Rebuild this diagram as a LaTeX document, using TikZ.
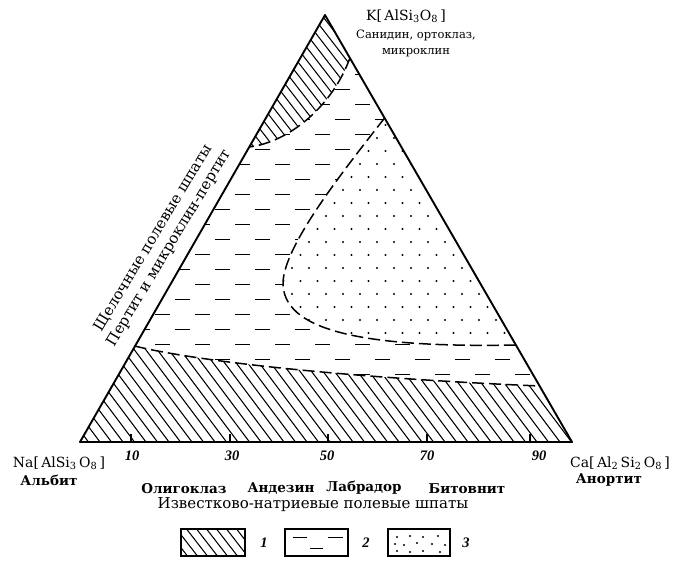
\documentclass[tikz,border=0pt]{standalone}
\usepackage{fontspec}
\setmainfont{DejaVu Serif}
\newfontfamily\numfont{Liberation Serif}
\begin{document}
\begin{tikzpicture}[x=1pt,y=-1pt]
\tikzset{
  tri/.style={line width=1.9pt, line join=round},
  bound/.style={line width=1.5pt, dash pattern=on 12pt off 5pt},
  hatch/.style={line width=1.05pt},
  dsh/.style={line width=1pt},
  lbl/.style={font=\fontsize{15}{16}\selectfont, inner sep=0pt},
  blbl/.style={font=\bfseries\fontsize{13.5}{15}\selectfont, inner sep=0pt},
  toplbl/.style={font=\fontsize{11.5}{13}\selectfont, inner sep=0pt},
  fml/.style={font=\fontsize{14}{15}\selectfont, inner sep=0pt},
  num/.style={font=\numfont\bfseries\itshape\fontsize{14.5}{15}\selectfont, inner sep=0pt},
  box/.style={line width=1.3pt},
  tick/.style={line width=1.1pt}
}
\useasboundingbox (0,0) rectangle (681,569);
% vertices and boundary points
\coordinate (A) at (325,15);
\coordinate (B) at (80,442);
\coordinate (C) at (572,442);
\coordinate (P1) at (249.3,147);
\coordinate (Q1) at (349.9,58);
\coordinate (L) at (134.5,346);
\coordinate (R) at (539.6,386);
\coordinate (S) at (384.6,118);
\coordinate (M) at (283,282);
\coordinate (T) at (515.9,345);
% region 2: dashes
\begin{scope}
  \clip (P1) -- (L) .. controls (200,362) and (350,378) .. (R) -- (Q1) .. controls (333,105) and (290,142) .. (P1) -- cycle;
  \foreach \r in {0,...,21}{
    \foreach \c in {0,...,12}{
      \draw[dsh] ({95+40*\c+20*mod(\r,2)},{60+15*\r}) -- ++(15,0);
    }
  }
\end{scope}
% region 3: dots
\fill[white] (S) .. controls (340,175) and (285,245) .. (M) .. controls (282,330) and (360,348) .. (T) -- cycle;
\begin{scope}
  \clip (S) .. controls (340,175) and (285,245) .. (M) .. controls (282,330) and (360,348) .. (T) -- cycle;
  \foreach \r in {0,...,18}{
    \foreach \c in {0,...,15}{
      \fill ({275+17*\c+8.5*mod(\r,2)},{112+13*\r}) circle[radius=1.2pt];
    }
  }
\end{scope}
% region 1: top hatching
\begin{scope}
  \clip (A) -- (Q1) .. controls (333,105) and (290,142) .. (P1) -- cycle;
  \foreach \i in {0,...,26}{
    \draw[hatch] ({120+10*\i},0) -- ++(120,155);
  }
\end{scope}
% bottom hatching
\begin{scope}
  \clip (L) .. controls (200,362) and (350,378) .. (R) -- (C) -- (B) -- cycle;
  \foreach \i in {0,...,50}{
    \draw[hatch] ({-30+11.5*\i},330) -- ++(90,120);
  }
\end{scope}
% boundaries
\draw[bound] (Q1) .. controls (333,105) and (290,142) .. (P1);
\draw[bound] (L) .. controls (200,362) and (350,378) .. (R);
\draw[bound] (S) .. controls (340,175) and (285,245) .. (M) .. controls (282,330) and (360,348) .. (T);
% triangle
\draw[tri] (A) -- (B) -- (C) -- cycle;
% ticks
\foreach \x in {131,230,328,427,530}{
  \draw[tick] (\x,442) -- (\x,434);
}
% vertex labels
\node[fml] (kf) at (406,16) {K[\,AlSi\textsubscript{3}O\textsubscript{8}\,]};
\node[toplbl] (san) at (416,35) {Санидин, ортоклаз,};
\node[toplbl] (mik) at (416,53) {микроклин};
\node[fml] (na) at (59,463) {Na[\,AlSi\textsubscript{3}\,O\textsubscript{8}\,]};
\node[blbl] (alb) at (49,480) {Альбит};
\node[fml] (ca) at (620,463) {Ca[\,Al\textsubscript{2}\,Si\textsubscript{2}\,O\textsubscript{8}\,]};
\node[blbl] (an) at (609,480) {Анортит};
% scale numbers
\node[num] (n10) at (132,456) {10};
\node[num] (n30) at (232,456) {30};
\node[num] (n50) at (327,456) {50};
\node[num] (n70) at (427,456) {70};
\node[num] (n90) at (539,456) {90};
% plagioclase names
\node[blbl] (olig) at (184,489) {Олигоклаз};
\node[blbl] (and) at (281,489) {Андезин};
\node[blbl] (lab) at (364,488) {Лабрадор};
\node[blbl] (bit) at (467,489) {Битовнит};
\node[lbl] (izv) at (313,505) {Известково-натриевые полевые шпаты};
% side labels
\node[lbl, rotate=59] (alk1) at (153,238) {Щелочные полевые шпаты};
\node[lbl, rotate=59] (alk2) at (169,248) {Пертит и микроклин-пертит};
% legend
\begin{scope}
  \clip (181,529) rectangle (245,556);
  \foreach \i in {0,...,9}{
    \draw[hatch] ({165+10*\i},527) -- ++(24,31);
  }
\end{scope}
\draw[box] (181,529) rectangle (245,556);
\node[num] (l1) at (264,543) {1};
\draw[box] (285,529) rectangle (348,556);
\draw[dsh] (293,538) -- (307,538);
\draw[dsh] (328,538) -- (343,538);
\draw[dsh] (310,549) -- (323,549);
\node[num] (l2) at (366,543) {2};
\draw[box] (388,529) rectangle (450,556);
\foreach \p in {(397,537),(410,536),(423,537),(438,536),(395,544),(404,545),(417,543),(432,544),(445,545),(397,551),(410,552),(423,551),(440,552)}{
  \fill \p circle[radius=1.1pt];
}
\node[num] (l3) at (466,543) {3};
\end{tikzpicture}
\end{document}
